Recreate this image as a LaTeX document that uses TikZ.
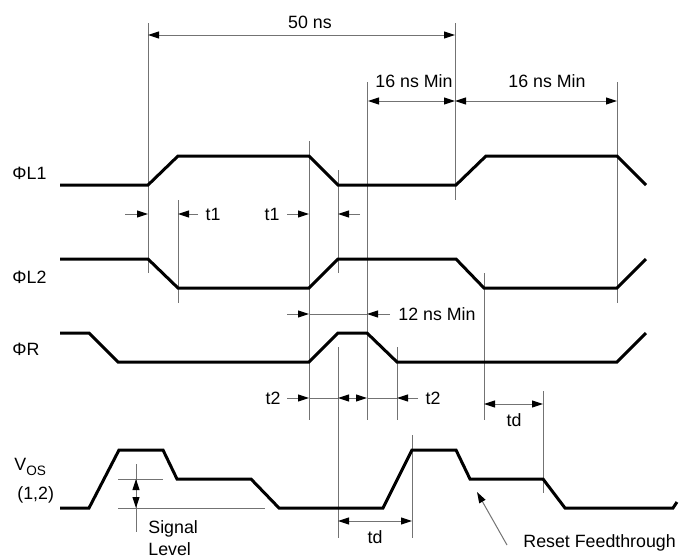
\documentclass[tikz,border=0pt]{standalone}
\usepackage{fontspec}
\setmainfont{Liberation Sans}
\usetikzlibrary{arrows.meta,calc,positioning}
\tikzset{
    >={Triangle[length=5.5pt,width=3.5pt,black]},
    sig/.style={line width=1.5pt,black},
    guide/.style={line width=0.5pt,black!55},
    lbl/.style={inner sep=0pt,font=\fontsize{8.9}{10}\selectfont}
}

\begin{document}
\begin{tikzpicture}[x=0.5pt,y=-0.5pt]

        \useasboundingbox (0,0) rectangle (679,559);

        % Draw guide lines.
        \foreach \x/\a/\b in {148/23/273, 178/200/303, 309/141/420, 338/170/273,
                              338/347/538, 367/82/420, 397/347/420, 455/23/200,
                              484/273/420, 543/391/493, 617/82/303, 412/435/538}
            \draw[guide] (\x,\a) -- (\x,\b);

        % Draw clock and output waveforms.
        \draw[sig] (60,185) -- (148,185) -- (178,156) -- (309,156) -- (338,185)
            -- (456,185) -- (486,156) -- (617,156) -- (646,185);
        \draw[sig] (60,259) -- (148,259) -- (178,288) -- (309,288) -- (338,259)
            -- (456,259) -- (484,288) -- (617,288) -- (646,259);
        \draw[sig] (60,333) -- (89,333) -- (118,362) -- (309,362) -- (338,333)
            -- (367,333) -- (397,362) -- (617,362) -- (646,333);
        \draw[sig] (60,508) -- (89,508) -- (119,450) -- (163,450) -- (177,479)
            -- (251,479) -- (279,508) -- (383,508) -- (412,450) -- (456,450)
            -- (470,479) -- (543,479) -- (565,508) -- (673,508) -- (677,502);

        % Signal names.
        \node[lbl,anchor=west] (phil1) at (12,173) {ΦL1};
        \node[lbl,anchor=west] (phil2) at (12,277) {ΦL2};
        \node[lbl,anchor=west] (phir) at (12,349) {ΦR};
        \node[lbl,anchor=west] (vos) at (14,467) {V\raisebox{-0.45ex}{\fontsize{6.8}{8}\selectfont OS}};
        \node[lbl,anchor=west] (vosn) at (17,495) {(1,2)};

        % Draw timing arrows.
        \draw[guide,<->] (148,35) -- (455,35);
        \node[lbl] (tcyc) at (310,22) {50 ns};

        \draw[guide,<->] (368,101) -- (455,101);
        \draw[guide,<->] (455,101) -- (617,101);
        \node[lbl] (tmina) at (414,81) {16 ns Min};
        \node[lbl] (tminb) at (547,81) {16 ns Min};

        \draw[guide,->] (125,214) -- (148,214);
        \draw[guide,->] (198,214) -- (178,214);
        \node[lbl] (tonea) at (213,214) {t1};
        \draw[guide,->] (287,214) -- (309,214);
        \draw[guide,->] (360,214) -- (338,214);
        \node[lbl] (toneb) at (272,214) {t1};

        \draw[guide,->] (287,314) -- (309,314);
        \draw[guide] (309,314) -- (367,314);
        \draw[guide,->] (390,314) -- (367,314);
        \node[lbl,anchor=west] (treset) at (398,314) {12 ns Min};

        \draw[guide,->] (287,398) -- (309,398);
        \draw[guide] (309,398) -- (338,398);
        \draw[guide,<->] (338,398) -- (367,398);
        \draw[guide] (367,398) -- (397,398);
        \draw[guide,->] (418,398) -- (397,398);
        \node[lbl] (ttwoa) at (273,398) {t2};
        \node[lbl] (ttwob) at (433,398) {t2};

        \draw[guide,<->] (484,404) -- (543,404);
        \node[lbl] (tda) at (514,420) {td};
        \draw[guide,<->] (338,521) -- (412,521);
        \node[lbl] (tdb) at (375,537) {td};

        % Signal level.
        \draw[guide] (118,479) -- (163,479);
        \draw[guide] (118,508) -- (265,508);
        \draw[guide] (136,464) -- (136,532);
        \draw[guide,<->] (136,479) -- (136,508);
        \node[lbl,anchor=west] (siga) at (148,529) {Signal};
        \node[lbl,anchor=west] (sigb) at (148,549) {Level};

        % Reset feedthrough.
        \node[lbl,anchor=west] (rft) at (523,543) {Reset Feedthrough};
        \coordinate (rfttip) at (477,492);
        \draw[guide,->] (507,545) -- (rfttip);
    \end{tikzpicture}
\end{document}
